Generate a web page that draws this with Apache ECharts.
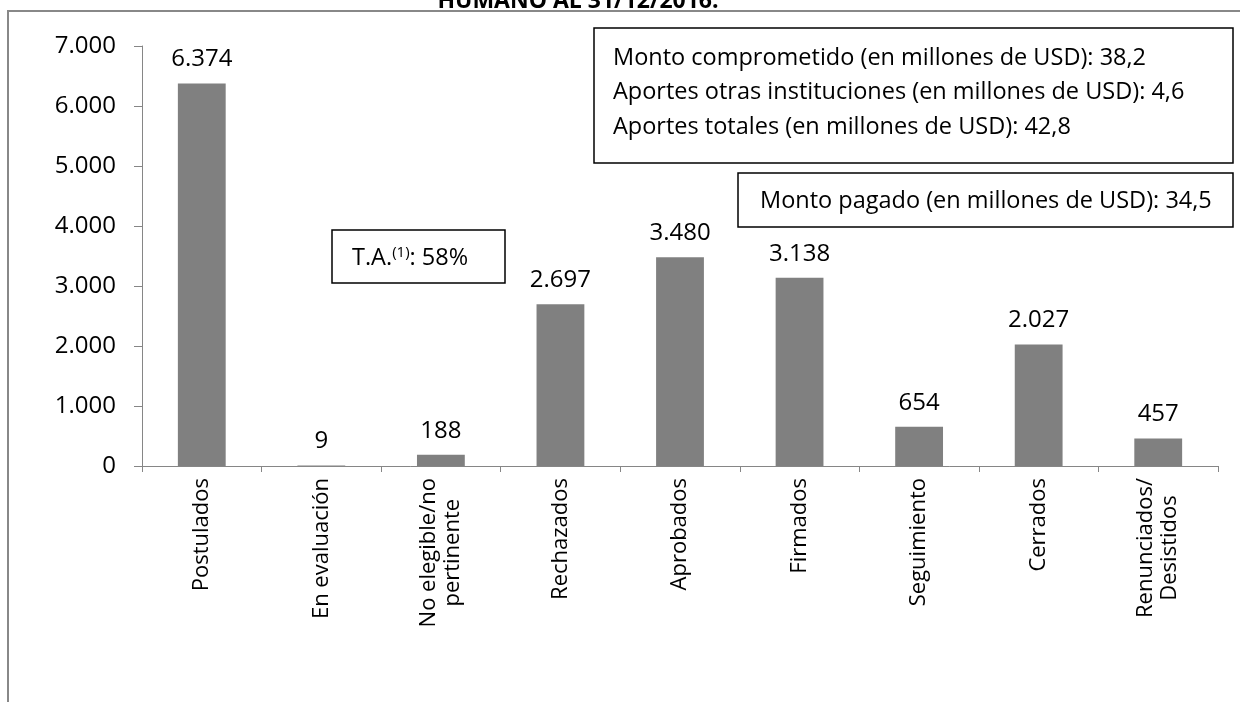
<!DOCTYPE html>
<html>
<head>
<meta charset="utf-8">
<script src="https://cdn.jsdelivr.net/npm/echarts@6/dist/echarts.min.js"></script>
<style>
  html, body { margin: 0; padding: 0; background: #fff; }
  #myChart { width: 1240px; height: 702px; }
</style>
</head>
<body>
<div id="myChart"></div>
<script>
  // datos
  var categories = ['Postulados', 'En evaluación', 'No elegible/no\npertinente', 'Rechazados',
    'Aprobados', 'Firmados', 'Seguimiento', 'Cerrados', 'Renunciados/\nDesistidos'];
  var values = [6374, 9, 188, 2697, 3480, 3138, 654, 2027, 457];
  var yTicks = [0, 1000, 2000, 3000, 4000, 5000, 6000, 7000];
  var montoLines = [
    'Monto comprometido (en millones de USD): 38,2',
    'Aportes otras instituciones (en millones de USD): 4,6',
    'Aportes totales (en millones de USD): 42,8'
  ];
  var montoPagado = 'Monto pagado (en millones de USD): 34,5';
  var tasa = '58%';
  var titulo = 'HUMANO AL 31/12/2016.';

  var FONT = 'Open Sans';
  var FS_NUM = 24;   // numeros (eje y, etiquetas)
  var FS_CAT = 22;   // categorias
  var FS_BOX = 23.5; // cuadros de texto

  // 6374 -> "6.374"
  function fmt(v) {
    return String(v).replace(/\B(?=(\d{3})+(?!\d))/g, '.');
  }

  var myChart = echarts.init(document.getElementById('myChart'));

  var montoText = montoLines.map(function (t, i) {
    return {
      type: 'text', x: 613, y: 58 + i * 34.5,
      style: { text: t, font: FS_BOX + 'px "' + FONT + '"', fill: '#000', verticalAlign: 'middle' }
    };
  });

  myChart.setOption({
    animation: false,
    textStyle: { fontFamily: FONT },
    grid: { left: 142, right: 22, top: 46, bottom: 236, containLabel: false },
    xAxis: {
      type: 'category',
      data: categories,
      axisLine: { lineStyle: { color: '#868686', width: 1 } },
      axisTick: { show: true, length: 6, lineStyle: { color: '#868686' } },
      axisLabel: {
        interval: 0,
        rotate: 90,
        margin: 12,
        color: '#000',
        fontSize: FS_CAT,
        formatter: function (v) {
          return v.split('\n').map(function (l) { return '{c|' + l + '}'; }).join('\n');
        },
        rich: {
          c: { align: 'center', fontSize: FS_CAT, fontFamily: FONT, color: '#000', lineHeight: 24 }
        }
      }
    },
    yAxis: {
      type: 'value',
      min: yTicks[0],
      max: yTicks[yTicks.length - 1],
      interval: 1000,
      splitLine: { show: false },
      axisLine: { show: true, lineStyle: { color: '#868686', width: 1 } },
      axisTick: { show: true, length: 8, lineStyle: { color: '#868686' } },
      axisLabel: {
        margin: 26,
        color: '#000',
        fontSize: FS_NUM,
        formatter: function (v) { return fmt(v); }
      }
    },
    series: [{
      type: 'bar',
      data: values,
      barWidth: '40%',
      itemStyle: { color: '#808080' },
      label: {
        show: true,
        position: 'top',
        distance: 12,
        color: '#000',
        fontSize: FS_NUM,
        formatter: function (p) { return fmt(p.value); }
      }
    }],
    graphic: [
      // marco exterior
      {
        type: 'polyline',
        shape: { points: [[8, 702], [8, 11], [1240, 11]] },
        style: { stroke: '#888', lineWidth: 2, fill: null }
      },
      {
        type: 'text', x: 578, y: 1,
        style: { text: titulo, font: 'bold 23px "' + FONT + '"', fill: '#000', align: 'center', verticalAlign: 'middle' }
      },
      {
        type: 'rect', shape: { x: 594, y: 28, width: 639, height: 135 },
        style: { fill: '#fff', stroke: '#000', lineWidth: 1.5 }
      }
    ].concat(montoText).concat([
      {
        type: 'rect', shape: { x: 738, y: 173, width: 495, height: 54 },
        style: { fill: '#fff', stroke: '#000', lineWidth: 1.5 }
      },
      {
        type: 'text', x: 760, y: 201,
        style: { text: montoPagado, font: FS_BOX + 'px "' + FONT + '"', fill: '#000', verticalAlign: 'middle' }
      },
      {
        type: 'rect', shape: { x: 332, y: 230, width: 173, height: 53 },
        style: { fill: '#fff', stroke: '#000', lineWidth: 1.5 }
      },
      {
        type: 'text', x: 352, y: 258,
        style: {
          text: 'T.A.{sup|(1)}: ' + tasa,
          font: FS_BOX + 'px "' + FONT + '"',
          fill: '#000',
          verticalAlign: 'middle',
          rich: {
            sup: { fontSize: 15, fontFamily: FONT, verticalAlign: 'top', fill: '#000', lineHeight: 26 }
          }
        }
      }
    ])
  });
</script>
</body>
</html>
